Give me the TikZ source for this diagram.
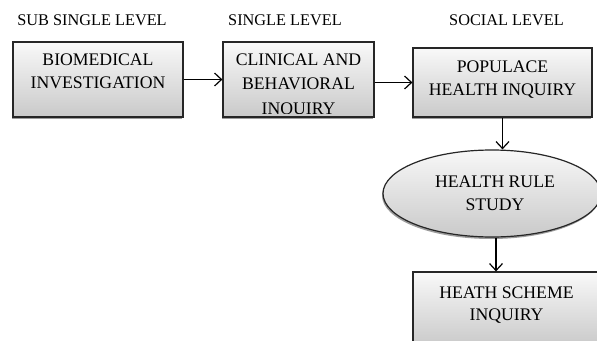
\documentclass[tikz,border=0pt]{standalone}
\usepackage{fontspec}
\setmainfont{Liberation Serif}
\usetikzlibrary{shapes.geometric,shadows,arrows.meta}

\tikzset{
  stage/.style={draw=black!85, line width=1.2pt, rectangle,
    top color=gray!5, bottom color=gray!42,
    drop shadow={shadow xshift=-1pt, shadow yshift=-2pt, fill=black!55, opacity=0.7}},
  policy/.style={draw=black!85, line width=1.2pt, ellipse,
    top color=gray!6, bottom color=gray!42,
    drop shadow={shadow xshift=-1pt, shadow yshift=-2pt, fill=black!55, opacity=0.7}},
  txt/.style={inner sep=0pt, anchor=base, align=center,
    font=\fontsize{17.7}{23}\selectfont},
  head/.style={inner sep=0pt, anchor=base, font=\fontsize{16.3}{18}\selectfont},
  flow/.style={draw=black, line width=1.2pt,
    -{Straight Barb[length=7pt, width=13pt, line width=1.2pt]}}
}

\begin{document}
\begin{tikzpicture}[x=1pt, y=-1pt]
  \clip (0,0) rectangle (597,340);
  \fill[white] (0,0) rectangle (597,340);

  % level headings
  \node[head] (h1) at (92,25) {SUB SINGLE LEVEL};
  \node[head] (h2) at (285,25) {SINGLE LEVEL};
  \node[head] (h3) at (506.5,25) {SOCIAL LEVEL};

  % research stages (a multi-line node sits on the baseline of its last line)
  \node[stage, minimum width=170pt, minimum height=75pt] (b1) at (98,79.5) {};
  \node[txt] (t1) at (98,88) {BIOMEDICAL\\INVESTIGATION};

  \node[stage, minimum width=151pt, minimum height=75pt] (b2) at (298.5,79.5) {};
  \node[txt, font=\fontsize{17.7}{24.5}\selectfont] (t2) at (298.5,89.5) {CLINICAL AND\\BEHAVIORAL};
  \begin{scope}
    \clip (223,42) rectangle (374,113);
    \node[txt] (t2b) at (298.5,114.5) {INQUIRY};
  \end{scope}

  \node[stage, minimum width=179pt, minimum height=69pt] (b3) at (502.5,82.5) {};
  \node[txt] (t3) at (502.5,95) {POPULACE\\HEALTH INQUIRY};

  \node[policy, minimum width=218pt, minimum height=87pt] (e) at (492,193.5) {};
  \node[txt] (te) at (495,210) {HEALTH RULE\\STUDY};

  \node[stage, minimum width=187pt, minimum height=74pt] (b5) at (506.5,309) {};
  \node[txt, font=\fontsize{17.7}{22}\selectfont] (t5) at (506.5,320) {HEATH SCHEME\\INQUIRY};

  % connectors
  \draw[flow] (b1.east) -- (b2.west);
  \draw[flow] (b2.east |- b3.west) -- (b3.west);
  \draw[flow] (b3.south) -- (b3.south |- e.north);
  \draw[flow] ([xshift=4pt]e.south) -- ([xshift=4pt]e.south |- b5.north);
\end{tikzpicture}
\end{document}
